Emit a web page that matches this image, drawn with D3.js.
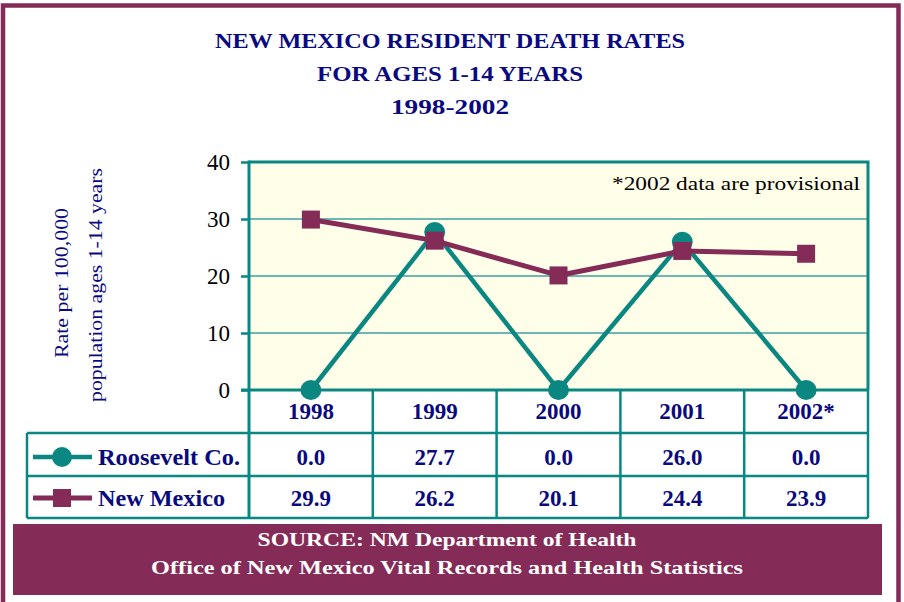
<!DOCTYPE html>
<html>
<head>
<meta charset="utf-8">
<script src="https://cdn.jsdelivr.net/npm/d3@7"></script>
<style>
  html, body { margin: 0; padding: 0; background: #ffffff; }
  svg { display: block; }
  text { font-family: "Liberation Serif", "Times New Roman", serif; }
</style>
</head>
<body>
<svg id="chart" width="904" height="602"></svg>
<script>
// Chart data
const years = ["1998", "1999", "2000", "2001", "2002*"];
const roosevelt = [0.0, 27.7, 0.0, 26.0, 0.0];
const newMexico = [29.9, 26.2, 20.1, 24.4, 23.9];
const yTicks = [0, 10, 20, 30, 40];
const seriesNames = ["Roosevelt Co.", "New Mexico"];
const titleLines = ["NEW MEXICO RESIDENT DEATH RATES", "FOR AGES 1-14 YEARS", "1998-2002"];
const yLabelLines = ["Rate per 100,000", "population ages 1-14 years"];
const note = "*2002 data are provisional";
const sourceLines = ["SOURCE: NM Department of Health", "Office of New Mexico Vital Records and Health Statistics"];

const MAROON = "#842B57";
const NAVY = "#0A0A80";
const TEAL = "#0B8782";
const GRID = "#6DB8B2";
const PLOTBG = "#FFFEE8";

const svg = d3.select("#chart");

// Outer frame
svg.append("path")
  .attr("d", "M3,602 V5.5 H898.5 V602")
  .attr("fill", "none").attr("stroke", MAROON).attr("stroke-width", 4.5);

// Title
const titleY = [48, 81, 114];
const titleW = [470, 266, 118];
titleLines.forEach((t, i) => {
  svg.append("text")
    .attr("x", 450).attr("y", titleY[i])
    .attr("text-anchor", "middle")
    .attr("font-size", 22).attr("font-weight", "bold")
    .attr("fill", NAVY)
    .attr("textLength", titleW[i]).attr("lengthAdjust", "spacingAndGlyphs")
    .text(t);
});

// Plot geometry
const plot = { left: 249, right: 868, top: 162, bottom: 390 };
const x = d3.scaleBand().domain(years).range([plot.left, plot.right]);
const y = d3.scaleLinear().domain([0, 40]).range([plot.bottom, plot.top]);
const cx = d => x(d) + x.bandwidth() / 2;

// Plot background
svg.append("rect")
  .attr("x", plot.left).attr("y", plot.top)
  .attr("width", plot.right - plot.left).attr("height", plot.bottom - plot.top)
  .attr("fill", PLOTBG);

// Gridlines
svg.append("g").selectAll("line")
  .data(yTicks.filter(v => v > 0 && v < 40))
  .join("line")
  .attr("x1", plot.left).attr("x2", plot.right)
  .attr("y1", d => y(d)).attr("y2", d => y(d))
  .attr("stroke", GRID).attr("stroke-width", 2);

// Y axis with ticks
const yAxis = svg.append("g")
  .attr("transform", `translate(${plot.left},0)`)
  .call(d3.axisLeft(y).tickValues(yTicks).tickSize(8).tickPadding(11).tickFormat(d3.format("d")));
yAxis.select(".domain").remove();
yAxis.selectAll(".tick line").attr("stroke", TEAL).attr("stroke-width", 2.5);
yAxis.selectAll(".tick text")
  .attr("font-family", "Liberation Serif, serif")
  .attr("font-size", 23).attr("fill", "#000").attr("dy", "0.34em");

// Plot frame: top, right, and vertical axis down through the table
svg.append("path")
  .attr("d", `M${plot.left},${plot.top} H${plot.right} V${plot.bottom}`)
  .attr("fill", "none").attr("stroke", TEAL).attr("stroke-width", 3);

// Data table grid
const tableLeft = 27;
const rowLines = [plot.bottom, 433, 476, 518];
const tbl = svg.append("g").attr("stroke", TEAL).attr("stroke-width", 2.5).attr("fill", "none");
tbl.append("line").attr("x1", plot.left - 8).attr("x2", plot.right).attr("y1", rowLines[0]).attr("y2", rowLines[0]).attr("stroke-width", 3);
rowLines.slice(1).forEach(r => {
  tbl.append("line").attr("x1", tableLeft).attr("x2", plot.right).attr("y1", r).attr("y2", r);
});
tbl.append("line").attr("x1", tableLeft).attr("x2", tableLeft).attr("y1", rowLines[1]).attr("y2", rowLines[3]);
tbl.append("line").attr("x1", plot.left).attr("x2", plot.left).attr("y1", plot.top - 1.5).attr("y2", rowLines[3]).attr("stroke-width", 3);
years.forEach(yr => {
  tbl.append("line")
    .attr("x1", x(yr) + x.bandwidth()).attr("x2", x(yr) + x.bandwidth())
    .attr("y1", rowLines[0]).attr("y2", rowLines[3]);
});

// Note inside the plot
svg.append("text")
  .attr("x", 860).attr("y", 190)
  .attr("text-anchor", "end")
  .attr("font-size", 19).attr("fill", "#000")
  .attr("textLength", 248).attr("lengthAdjust", "spacingAndGlyphs")
  .text(note);

// Y axis title
const yLab = [{ x: 68, cy: 283, w: 150 }, { x: 102, cy: 285, w: 234 }];
yLabelLines.forEach((t, i) => {
  svg.append("text")
    .attr("transform", `translate(${yLab[i].x},${yLab[i].cy}) rotate(-90)`)
    .attr("text-anchor", "middle")
    .attr("font-size", 19).attr("fill", NAVY)
    .attr("textLength", yLab[i].w).attr("lengthAdjust", "spacingAndGlyphs")
    .text(t);
});

// Lines
const line = d3.line().x((d, i) => cx(years[i])).y(d => y(d));
svg.append("path").datum(roosevelt)
  .attr("d", line).attr("fill", "none")
  .attr("stroke", TEAL).attr("stroke-width", 4.5).attr("stroke-linejoin", "round");
svg.append("g").selectAll("ellipse").data(roosevelt).join("ellipse")
  .attr("cx", (d, i) => cx(years[i])).attr("cy", d => y(d))
  .attr("rx", 10.5).attr("ry", 10)
  .attr("fill", TEAL);

svg.append("path").datum(newMexico)
  .attr("d", line).attr("fill", "none")
  .attr("stroke", MAROON).attr("stroke-width", 5).attr("stroke-linejoin", "round");
const sq = 18;
svg.append("g").selectAll("rect").data(newMexico).join("rect")
  .attr("x", (d, i) => cx(years[i]) - sq / 2).attr("y", d => y(d) - sq / 2)
  .attr("width", sq).attr("height", sq)
  .attr("fill", MAROON);

// Table header: years
years.forEach(yr => {
  svg.append("text")
    .attr("x", cx(yr)).attr("y", 419)
    .attr("text-anchor", "middle")
    .attr("font-size", 23).attr("font-weight", "bold").attr("fill", NAVY)
    .text(yr);
});

// Table rows: legend + values
const rows = [
  { name: seriesNames[0], values: roosevelt, color: TEAL, marker: "circle", cy: 457, w: 142 },
  { name: seriesNames[1], values: newMexico, color: MAROON, marker: "square", cy: 498, w: 127 }
];
rows.forEach(r => {
  svg.append("line")
    .attr("x1", 33).attr("x2", 92).attr("y1", r.cy).attr("y2", r.cy)
    .attr("stroke", r.color).attr("stroke-width", r.marker === "circle" ? 4.5 : 5);
  if (r.marker === "circle") {
    svg.append("circle").attr("cx", 62).attr("cy", r.cy).attr("r", 10).attr("fill", r.color);
  } else {
    svg.append("rect").attr("x", 62 - 9).attr("y", r.cy - 9).attr("width", 18).attr("height", 18).attr("fill", r.color);
  }
  svg.append("text")
    .attr("x", 98).attr("y", r.cy + 8)
    .attr("font-size", 23).attr("font-weight", "bold").attr("fill", NAVY)
    .attr("textLength", r.w).attr("lengthAdjust", "spacingAndGlyphs")
    .text(r.name);
  r.values.forEach((v, i) => {
    svg.append("text")
      .attr("x", cx(years[i])).attr("y", r.cy + 8)
      .attr("text-anchor", "middle")
      .attr("font-size", 23).attr("font-weight", "bold").attr("fill", NAVY)
      .text(d3.format(".1f")(v));
  });
});

// Source box
svg.append("rect")
  .attr("x", 13).attr("y", 524).attr("width", 869).attr("height", 71)
  .attr("fill", MAROON);
const srcY = [546, 574];
const srcW = [379, 592];
sourceLines.forEach((t, i) => {
  svg.append("text")
    .attr("x", 447).attr("y", srcY[i])
    .attr("text-anchor", "middle")
    .attr("font-size", 19).attr("font-weight", "bold").attr("fill", "#ffffff")
    .attr("textLength", srcW[i]).attr("lengthAdjust", "spacingAndGlyphs")
    .text(t);
});
</script>
</body>
</html>
